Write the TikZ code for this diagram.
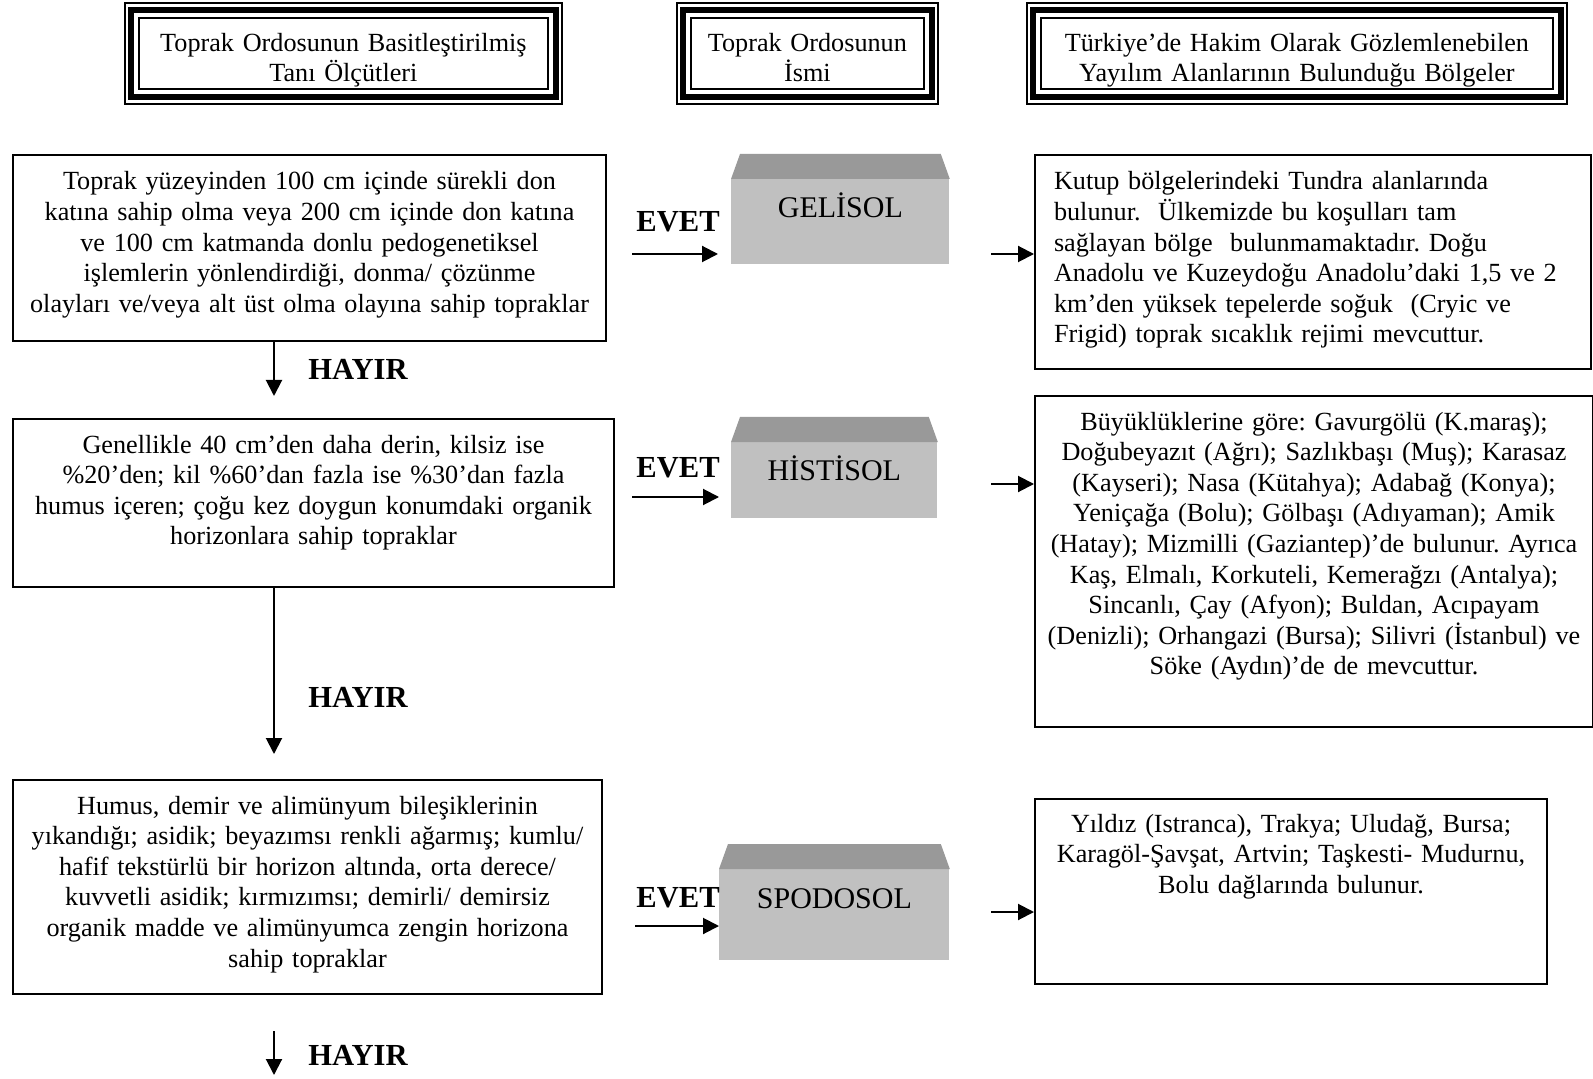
\documentclass[tikz,border=0pt]{standalone}
\usepackage{fontspec}
\setmainfont{Liberation Serif}
\usepackage{tikz}
\usetikzlibrary{arrows.meta,calc}
\usepackage{xcolor}
\definecolor{frontGray}{HTML}{C0C0C0}
\definecolor{topGray}{HTML}{999999}
\frenchspacing
\tikzset{
  base/.style={font=\fontsize{13.1}{15.3}\selectfont, text=black},
  hdr/.style={base, draw, line width=0.9pt, inner sep=0pt, align=center, anchor=north west, text height=16.75pt, text depth=19pt},
  crit/.style={base, draw, line width=1pt, inner sep=0pt, align=center, anchor=north west},
  region/.style={crit},
  order/.style={base, font=\fontsize{15}{18}\selectfont, fill=frontGray, inner sep=0pt, anchor=north west},
  tag/.style={font=\bfseries\fontsize{15.3}{18}\selectfont},
  arrow/.style={-{Triangle[length=8pt,width=8pt]}, line width=1pt},
}

\begin{document}
\begin{tikzpicture}[x=0.5pt,y=-0.5pt]
  \useasboundingbox (0,0) rectangle (1593,1079);

  \node[hdr,text width=204.5pt] (h1) at (138,17) {Toprak Ordosunun Basitleştirilmiş\\Tanı Ölçütleri};
  \node[hdr,text width=116.5pt] (h2) at (690,17) {Toprak Ordosunun\\İsmi};
  \node[hdr,text width=256pt] (h3) at (1040,17) {Türkiye’de Hakim Olarak Gözlemlenebilen\\Yayılım Alanlarının Bulunduğu Bölgeler};
  \foreach \h in {h1,h2,h3}{
    \draw[line width=2.8pt] ([shift={(-7,-7)}]\h.north west) rectangle ([shift={(7,7)}]\h.south east);
    \draw[line width=1pt] ([shift={(-13.5,-13.5)}]\h.north west) rectangle ([shift={(13.5,13.5)}]\h.south east);
  }

  \node[crit,text width=296.5pt,text height=17.5pt,text depth=75.5pt] (crit1) at (12,154) {Toprak yüzeyinden 100 cm içinde sürekli don\\katına sahip olma veya 200 cm içinde don katına\\ve 100 cm katmanda donlu pedogenetiksel\\işlemlerin yönlendirdiği, donma/ çözünme\\olayları ve/veya alt üst olma olayına sahip topraklar};
  \node[crit,text width=300.5pt,text height=17pt,text depth=67pt] (crit2) at (12,418) {Genellikle 40 cm’den daha derin, kilsiz ise\\\%20’den; kil \%60’dan fazla ise \%30’dan fazla\\humus içeren; çoğu kez doygun konumdaki organik\\horizonlara sahip topraklar};
  \node[crit,text width=294.5pt,text height=17pt,text depth=90pt] (crit3) at (12,779) {Humus, demir ve alimünyum bileşiklerinin\\yıkandığı; asidik; beyazımsı renkli ağarmış; kumlu/\\hafif tekstürlü bir horizon altında, orta derece/\\kuvvetli asidik; kırmızımsı; demirli/ demirsiz\\organik madde ve alimünyumca zengin horizona\\sahip topraklar};

  \node[order,minimum width=109pt,text height=19pt,text depth=23.5pt] (g1) at (731,179) {GELİSOL};
  \node[order,minimum width=103pt,text height=19pt,text depth=19pt] (g2) at (731,442) {HİSTİSOL};
  \node[order,minimum width=115pt,text height=19.5pt,text depth=26pt] (g3) at (719,869) {SPODOSOL};
  \foreach \g in {g1,g2,g3}
    \fill[topGray] (\g.north west) -- (\g.north east) -- ($(\g.north east)+(-9,-25)$) -- ($(\g.north west)+(9,-25)$) -- cycle;

  \node[region,align=left,inner xsep=9.5pt,text width=259pt,text height=17.5pt,text depth=89.5pt] (reg1) at (1034,154) {Kutup bölgelerindeki Tundra alanlarında\\bulunur.\ \ Ülkemizde bu koşulları tam\\sağlayan bölge\ \ bulunmamaktadır. Doğu\\Anadolu ve Kuzeydoğu Anadolu’daki 1,5 ve 2\\km’den yüksek tepelerde soğuk\ \ (Cryic ve\\Frigid) toprak sıcaklık rejimi mevcuttur.};
  \node[region,text width=279pt,text height=17pt,text depth=148.5pt] (reg2) at (1034,395) {Büyüklüklerine göre: Gavurgölü (K.maraş);\\Doğubeyazıt (Ağrı); Sazlıkbaşı (Muş); Karasaz\\(Kayseri); Nasa (Kütahya); Adabağ (Konya);\\Yeniçağa (Bolu); Gölbaşı (Adıyaman); Amik\\(Hatay); Mizmilli (Gaziantep)’de bulunur. Ayrıca\\Kaş, Elmalı, Korkuteli, Kemerağzı (Antalya);\\Sincanlı, Çay (Afyon); Buldan, Acıpayam\\(Denizli); Orhangazi (Bursa); Silivri (İstanbul) ve\\Söke (Aydın)’de de mevcuttur.};
  \node[region,text width=256pt,text height=16.5pt,text depth=76pt] (reg3) at (1034,798) {Yıldız (Istranca), Trakya; Uludağ, Bursa;\\Karagöl-Şavşat, Artvin; Taşkesti- Mudurnu,\\Bolu dağlarında bulunur.};

  \node[tag] (evet1) at (678,222) {EVET};
  \node[tag] (evet2) at (678,468) {EVET};
  \node[tag] (evet3) at (678,898) {EVET};
  \node[tag] (hayir1) at (358,369) {HAYIR};
  \node[tag] (hayir2) at (358,697) {HAYIR};
  \node[tag] (hayir3) at (358,1055) {HAYIR};

  \coordinate (d1) at (274,396);
  \coordinate (d2) at (274,754);
  \coordinate (d3s) at (274,1031);
  \coordinate (d3e) at (274,1075);
  \coordinate (e1) at (632,254);
  \coordinate (e2) at (632,497);
  \coordinate (e3) at (635,926);
  \coordinate (r1) at (991,254);
  \coordinate (r2) at (991,484);
  \coordinate (r3) at (991,912);

  \draw[arrow] (d1 |- crit1.south) -- (d1);
  \draw[arrow] (d2 |- crit2.south) -- (d2);
  \draw[arrow] (d3s) -- (d3e);
  \draw[arrow,shorten >=6.5pt] (e1) -- (e1 -| g1.west);
  \draw[arrow,shorten >=6pt] (e2) -- (e2 -| g2.west);
  \draw[arrow] (e3) -- (e3 -| g3.west);
  \draw[arrow] (r1) -- (r1 -| reg1.west);
  \draw[arrow] (r2) -- (r2 -| reg2.west);
  \draw[arrow] (r3) -- (r3 -| reg3.west);
\end{tikzpicture}
\end{document}
